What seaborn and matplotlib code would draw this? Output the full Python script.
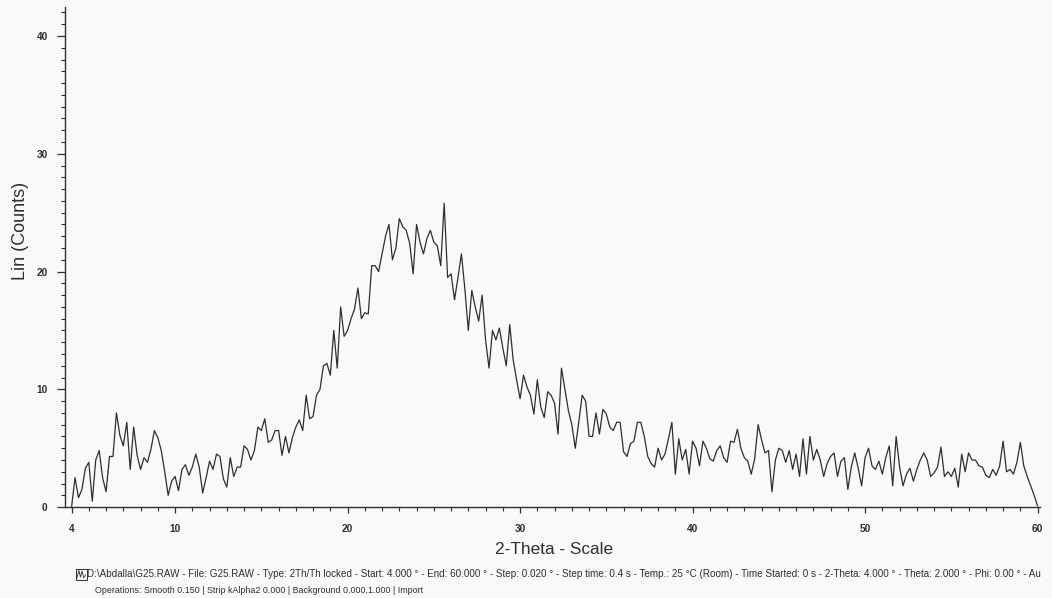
import numpy as np
import pandas as pd
import matplotlib
matplotlib.use("Agg")
import matplotlib.pyplot as plt
from matplotlib.ticker import MultipleLocator, FixedLocator
from matplotlib.patches import Rectangle
from matplotlib.lines import Line2D
import seaborn as sns

# 2-theta grid (deg) and counts, 0.2 deg apart
two_theta_start = 4.0
two_theta_step = 0.2
counts = [
    0.0, 2.5, 0.8, 1.5, 3.3,      # 4
    3.8, 0.5, 4.0, 4.8, 2.5,      # 5
    1.3, 4.3, 4.3, 8.0, 6.1,      # 6
    5.2, 7.2, 3.2, 6.8, 4.4,      # 7
    3.2, 4.2, 3.8, 4.9, 6.5,      # 8
    5.9, 4.8, 3.0, 1.0, 2.2,      # 9
    2.6, 1.4, 3.2, 3.6, 2.7,      # 10
    3.4, 4.5, 3.4, 1.2, 2.5,      # 11
    3.9, 3.2, 4.5, 4.3, 2.4,      # 12
    1.7, 4.2, 2.6, 3.4, 3.4,      # 13
    5.2, 4.9, 4.0, 4.8, 6.8,      # 14
    6.5, 7.5, 5.5, 5.7, 6.5,      # 15
    6.5, 4.4, 6.0, 4.6, 5.9,      # 16
    6.8, 7.4, 6.5, 9.5, 7.5,      # 17
    7.7, 9.5, 10.0, 12.0, 12.2,   # 18
    11.2, 15.0, 11.8, 17.0, 14.5, # 19
    15.0, 16.0, 16.8, 18.6, 16.0, # 20
    16.5, 16.4, 20.5, 20.5, 20.0, # 21
    21.5, 23.0, 24.0, 21.0, 22.0, # 22
    24.5, 23.8, 23.5, 22.4, 19.8, # 23
    24.0, 22.5, 21.5, 22.8, 23.5, # 24
    22.5, 22.2, 20.5, 25.8, 19.5, # 25
    19.8, 17.6, 19.5, 21.5, 18.5, # 26
    15.0, 18.4, 17.0, 15.8, 18.0, # 27
    14.2, 11.8, 15.0, 14.2, 15.2, # 28
    13.5, 12.0, 15.5, 12.5, 10.8, # 29
    9.2, 11.2, 10.2, 9.5, 7.9,    # 30
    10.8, 8.5, 7.6, 9.8, 9.5,     # 31
    8.8, 6.2, 11.8, 10.0, 8.2,    # 32
    7.0, 5.0, 7.2, 9.5, 9.0,      # 33
    6.0, 6.0, 8.0, 6.2, 8.3,      # 34
    7.9, 6.8, 6.5, 7.2, 7.2,      # 35
    4.7, 4.3, 5.4, 5.6, 7.2,      # 36
    7.2, 6.0, 4.3, 3.7, 3.4,      # 37
    5.0, 4.0, 4.5, 5.8, 7.2,      # 38
    2.8, 5.8, 4.0, 4.9, 2.8,      # 39
    5.6, 5.0, 3.5, 5.6, 5.0,      # 40
    4.1, 3.9, 4.8, 5.2, 4.2,      # 41
    3.8, 5.6, 5.5, 6.6, 5.0,      # 42
    4.2, 3.9, 2.8, 4.1, 7.0,      # 43
    5.7, 4.6, 4.8, 1.3, 4.0,      # 44
    5.0, 4.8, 3.8, 4.8, 3.2,      # 45
    4.5, 2.6, 5.8, 2.8, 6.0,      # 46
    4.0, 4.9, 4.0, 2.6, 3.7,      # 47
    4.3, 4.6, 2.6, 3.9, 4.2,      # 48
    1.5, 3.4, 4.6, 3.3, 1.8,      # 49
    4.2, 5.0, 3.5, 3.2, 3.9,      # 50
    2.8, 4.2, 5.2, 1.8, 6.0,      # 51
    3.4, 1.8, 2.8, 3.3, 2.2,      # 52
    3.2, 4.0, 4.6, 4.0, 2.6,      # 53
    2.9, 3.4, 5.1, 2.6, 3.0,      # 54
    2.6, 3.3, 1.7, 4.5, 3.0,      # 55
    4.6, 4.0, 4.0, 3.5, 3.4,      # 56
    2.7, 2.5, 3.2, 2.7, 3.5,      # 57
    5.6, 3.0, 3.2, 2.8, 3.8,      # 58
    5.5, 3.5, 2.6, 1.8, 1.0,      # 59
    0.1,                          # 60
]
two_theta = two_theta_start + two_theta_step * np.arange(len(counts))

x_tick_labels = [4, 10, 20, 30, 40, 50, 60]
y_tick_labels = [0, 10, 20, 30, 40]

footer_line1 = ("D:\\Abdalla\\G25.RAW - File: G25.RAW - Type: 2Th/Th locked - Start: 4.000 \u00b0 - "
                "End: 60.000 \u00b0 - Step: 0.020 \u00b0 - Step time: 0.4 s - Temp.: 25 \u00b0C (Room) - "
                "Time Started: 0 s - 2-Theta: 4.000 \u00b0 - Theta: 2.000 \u00b0 - Phi: 0.00 \u00b0 - Au")
footer_line2 = "Operations: Smooth 0.150 | Strip kAlpha2 0.000 | Background 0.000,1.000 | Import"

df = pd.DataFrame({"two_theta": two_theta, "counts": counts})

sns.set_style("ticks")
plt.rcParams["font.family"] = ["Liberation Sans", "DejaVu Sans"]

paper = "#f8f9f9"
ink = "#2e2e2e"

fig = plt.figure(figsize=(10.52, 5.98), dpi=100, facecolor=paper)
ax = fig.add_axes([0.0618, 0.152, 0.9268, 0.836])
ax.set_facecolor(paper)

sns.lineplot(data=df, x="two_theta", y="counts", ax=ax, color=ink, linewidth=0.9)

ax.set_xlim(3.62, 60.14)
ax.set_ylim(0, 42.45)

ax.xaxis.set_major_locator(FixedLocator(x_tick_labels))
ax.xaxis.set_minor_locator(MultipleLocator(1))
ax.yaxis.set_major_locator(FixedLocator(y_tick_labels))
ax.yaxis.set_minor_locator(MultipleLocator(1))

ax.tick_params(axis="x", which="major", length=4.5, width=0.9, color=ink,
               labelsize=7.3, labelcolor=ink, pad=8)
ax.tick_params(axis="x", which="minor", length=3, width=0.8, color=ink)
ax.tick_params(axis="y", which="major", length=5.5, width=0.9, color=ink,
               labelsize=7.3, labelcolor=ink, pad=7)
ax.tick_params(axis="y", which="minor", length=3, width=0.8, color=ink)
for lab in ax.get_xticklabels() + ax.get_yticklabels():
    lab.set_fontweight("bold")

sns.despine(ax=ax)
for side in ["left", "bottom"]:
    ax.spines[side].set_color(ink)
    ax.spines[side].set_linewidth(1.0)

ax.set_xlabel("")
ax.set_ylabel("")
fig.text(0.0195, 0.614, "Lin (Counts)", rotation=90, ha="center", va="center",
         fontsize=13, color=ink)
fig.text(0.527, 0.081, "2-Theta - Scale", ha="center", va="center",
         fontsize=12.4, color=ink)

# little scan icon in front of the file line
fig.add_artist(Rectangle((0.0722, 0.030), 0.0105, 0.019, transform=fig.transFigure,
                         fill=False, edgecolor=ink, linewidth=0.7))
fig.add_artist(Line2D([0.0730, 0.0750, 0.0765, 0.0780, 0.0795, 0.0815],
                      [0.033, 0.046, 0.035, 0.045, 0.034, 0.039],
                      transform=fig.transFigure, color=ink, linewidth=0.6))

fig.text(0.083, 0.040, footer_line1, ha="left", va="center", fontsize=7.15, color=ink)
fig.text(0.090, 0.012, footer_line2, ha="left", va="center", fontsize=6.4, color=ink)

fig.savefig("out.png", dpi=100, facecolor=paper)
